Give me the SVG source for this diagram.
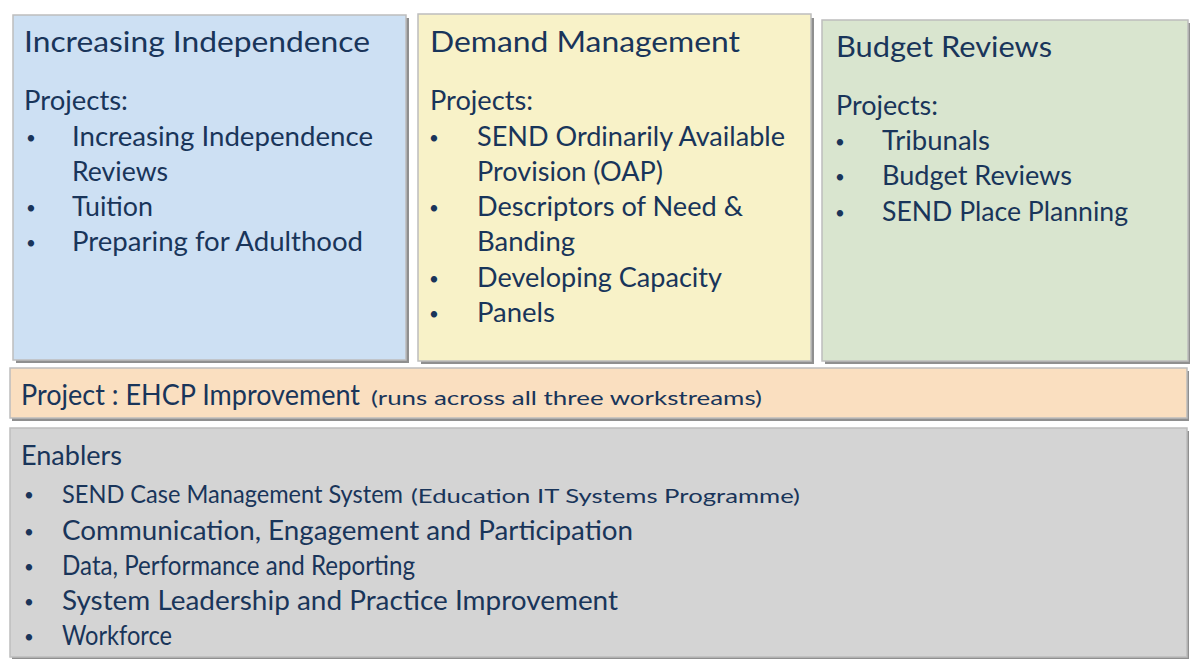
<svg xmlns="http://www.w3.org/2000/svg" width="1190" height="659" viewBox="0 0 1190 659">
<style>
.box{stroke:#bdbdbd;stroke-width:1.5}
.sh{fill:#8f8f8f}
text{font-family:Lato,"Open Sans","Liberation Sans",sans-serif;fill:#19355a}
.t{font-size:28px}
.b{font-size:26px}
.m{font-size:25px}
.s{font-size:20px}
.d{font-size:17px}
</style>
<rect width="1190" height="659" fill="#ffffff"/>
<g id="increasing-independence">
<rect class="sh" x="16" y="18" width="393" height="345"/>
<rect class="box" x="13" y="15" width="393" height="345" fill="#cde0f3"/>
<text class="t" x="24" y="52" textLength="346" lengthAdjust="spacingAndGlyphs">Increasing Independence</text>
<text class="b" x="24" y="110" textLength="104" lengthAdjust="spacingAndGlyphs">Projects:</text>
<text class="d" x="26" y="144">•</text>
<text class="b" x="72" y="146" textLength="301" lengthAdjust="spacingAndGlyphs">Increasing Independence</text>
<text class="b" x="72" y="181" textLength="96" lengthAdjust="spacingAndGlyphs">Reviews</text>
<text class="d" x="26" y="214">•</text>
<text class="b" x="72" y="216" textLength="81" lengthAdjust="spacingAndGlyphs">Tuition</text>
<text class="d" x="26" y="249">•</text>
<text class="b" x="72" y="251" textLength="291" lengthAdjust="spacingAndGlyphs">Preparing for Adulthood</text>
</g>
<g id="demand-management">
<rect class="sh" x="421" y="18" width="393" height="346"/>
<rect class="box" x="418" y="14" width="393" height="347" fill="#f8f2c8"/>
<text class="t" x="430" y="52" textLength="310" lengthAdjust="spacingAndGlyphs">Demand Management</text>
<text class="b" x="430" y="110" textLength="103" lengthAdjust="spacingAndGlyphs">Projects:</text>
<text class="d" x="429" y="144">•</text>
<text class="b" x="477" y="146" textLength="308" lengthAdjust="spacingAndGlyphs">SEND Ordinarily Available</text>
<text class="b" x="477" y="181" textLength="186" lengthAdjust="spacingAndGlyphs">Provision (OAP)</text>
<text class="d" x="429" y="214">•</text>
<text class="b" x="477" y="216" textLength="266" lengthAdjust="spacingAndGlyphs">Descriptors of Need &amp;</text>
<text class="b" x="477" y="251" textLength="98" lengthAdjust="spacingAndGlyphs">Banding</text>
<text class="d" x="429" y="285">•</text>
<text class="b" x="477" y="287" textLength="245" lengthAdjust="spacingAndGlyphs">Developing Capacity</text>
<text class="d" x="429" y="320">•</text>
<text class="b" x="477" y="322" textLength="78" lengthAdjust="spacingAndGlyphs">Panels</text>
</g>
<g id="budget-reviews">
<rect class="sh" x="825" y="23" width="365" height="341"/>
<rect class="box" x="822" y="20" width="366" height="341" fill="#d9e5cf"/>
<text class="t" x="836" y="57" textLength="216" lengthAdjust="spacingAndGlyphs">Budget Reviews</text>
<text class="b" x="836" y="115" textLength="102" lengthAdjust="spacingAndGlyphs">Projects:</text>
<text class="d" x="835" y="148">•</text>
<text class="b" x="882" y="150" textLength="108" lengthAdjust="spacingAndGlyphs">Tribunals</text>
<text class="d" x="835" y="183">•</text>
<text class="b" x="882" y="185" textLength="190" lengthAdjust="spacingAndGlyphs">Budget Reviews</text>
<text class="d" x="835" y="219">•</text>
<text class="b" x="882" y="221" textLength="246" lengthAdjust="spacingAndGlyphs">SEND Place Planning</text>
</g>
<g id="ehcp-improvement">
<rect class="sh" x="12" y="371" width="1177" height="50"/>
<rect class="box" x="10" y="368" width="1177" height="50" fill="#fadfc0"/>
<text class="t" x="21" y="405" textLength="339" lengthAdjust="spacingAndGlyphs">Project : EHCP Improvement</text>
<text class="s" x="371" y="405" textLength="391" lengthAdjust="spacingAndGlyphs">(runs across all three workstreams)</text>
</g>
<g id="enablers">
<rect class="sh" x="12" y="431" width="1177" height="228"/>
<rect class="box" x="10" y="428" width="1177" height="229" fill="#d4d4d4"/>
<text class="b" x="21" y="465" textLength="101" lengthAdjust="spacingAndGlyphs">Enablers</text>
<text class="d" x="24" y="501">•</text>
<text class="m" x="62" y="503" textLength="341" lengthAdjust="spacingAndGlyphs">SEND Case Management System</text>
<text class="s" x="411" y="503" textLength="389" lengthAdjust="spacingAndGlyphs">(Education IT Systems Programme)</text>
<text class="d" x="24" y="538">•</text>
<text class="b" x="62" y="540" textLength="571" lengthAdjust="spacingAndGlyphs">Communication, Engagement and Participation</text>
<text class="d" x="24" y="573">•</text>
<text class="b" x="62" y="575" textLength="353" lengthAdjust="spacingAndGlyphs">Data, Performance and Reporting</text>
<text class="d" x="24" y="608">•</text>
<text class="b" x="62" y="610" textLength="556" lengthAdjust="spacingAndGlyphs">System Leadership and Practice Improvement</text>
<text class="d" x="24" y="643">•</text>
<text class="b" x="62" y="645" textLength="110" lengthAdjust="spacingAndGlyphs">Workforce</text>
</g>
<g id="connectors"></g>
</svg>
